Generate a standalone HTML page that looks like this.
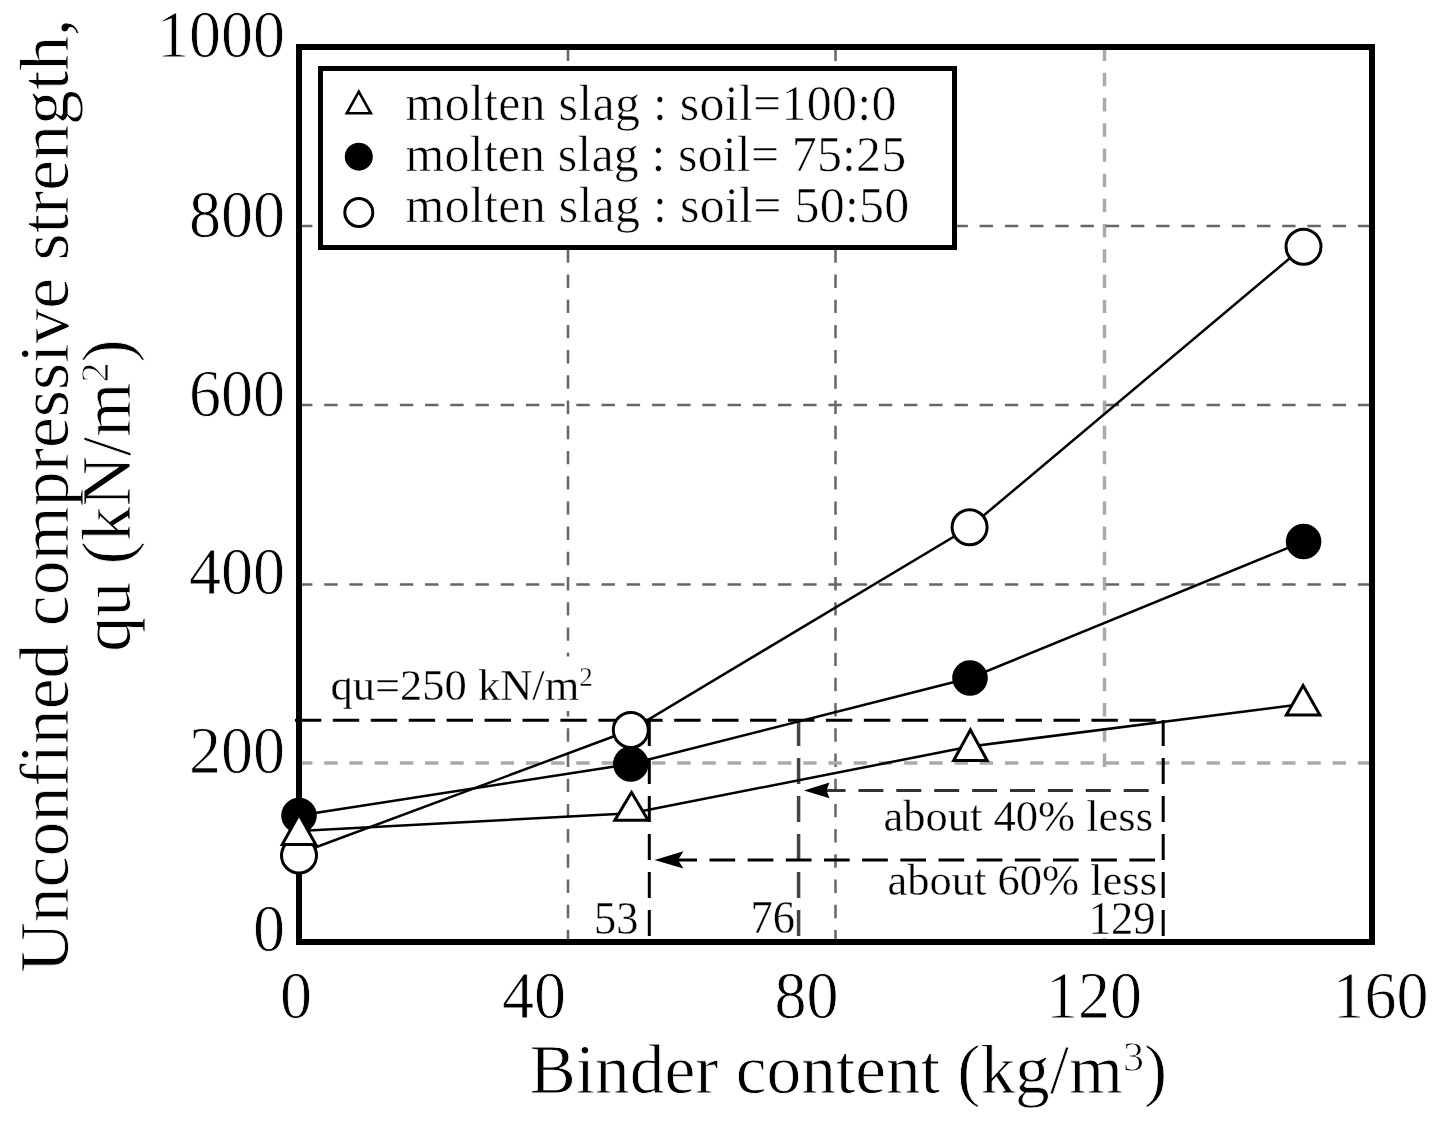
<!DOCTYPE html>
<html><head><meta charset="utf-8">
<style>
html,body{margin:0;padding:0;background:#fff;}
body{width:1439px;height:1127px;overflow:hidden;}
svg{display:block;filter:grayscale(1);}
text{font-family:"Liberation Serif",serif;fill:#000;stroke:#fff;stroke-width:0.8px;}
.t6 text{stroke-width:0.6px;}
.t3 text{stroke-width:0.3px;}
</style></head>
<body>
<svg width="1439" height="1127" viewBox="0 0 1439 1127">
<rect x="0" y="0" width="1439" height="1127" fill="#fff"/>
<!-- grid -->
<g stroke="#666" stroke-width="2.5" stroke-dasharray="13.4 11.81" fill="none">
<line x1="568" y1="47.6" x2="568" y2="939"/>
<line x1="835.5" y1="47.6" x2="835.5" y2="939"/>
<line x1="1104.5" y1="47.6" x2="1104.5" y2="939" stroke="#aaa" stroke-width="3.5"/>
<line x1="299" y1="226" x2="1369" y2="226"/>
<line x1="299" y1="405" x2="1369" y2="405"/>
<line x1="299" y1="584.5" x2="1369" y2="584.5"/>
<line x1="299" y1="763" x2="1369" y2="763" stroke="#aaa" stroke-width="3.5"/>
</g>
<!-- label backgrounds -->
<rect x="328" y="656.5" width="267" height="54.5" fill="#fff"/>
<rect x="878" y="772" width="282" height="166" fill="#fff"/>
<!-- annotation dashed lines -->
<g stroke="#000" stroke-width="3" fill="none">
<line x1="294.9" y1="720.3" x2="1163.5" y2="720.3" stroke-dasharray="26.4 11.53"/>
<line x1="649.3" y1="720" x2="649.3" y2="939" stroke-dasharray="26 12"/>
<line x1="798.6" y1="720" x2="798.6" y2="939" stroke-dasharray="26 12" stroke="#444" stroke-width="3.5"/>
<line x1="1163.2" y1="720" x2="1163.2" y2="939" stroke-dasharray="26 12"/>
<line x1="820.5" y1="790.4" x2="1149" y2="790.4" stroke-dasharray="25 12.9" stroke="#333"/>
<line x1="671.3" y1="859.9" x2="1155.5" y2="859.9" stroke-dasharray="25.7 12.47"/>
</g>
<path d="M804,790.4 L829.5,782.6 L826.5,790.4 L829.5,798.2 Z" fill="#000"/>
<path d="M654.5,859.9 L683.4,851.3 L678.1,859.9 L683.4,868.6 Z" fill="#000"/>
<!-- frame -->
<rect x="299" y="47" width="1073" height="895" fill="none" stroke="#000" stroke-width="6"/>
<!-- series lines -->
<g stroke="#000" stroke-width="2.5" fill="none">
<polyline points="299,831 631,813.3 970,746.5 1303,704"/>
<polyline points="299,815.5 630.8,764 970,678 1303.6,541.5"/>
<polyline points="299,853.5 630.8,730 969.6,527.3 1303.5,246.7"/>
</g>
<!-- markers -->
<g fill="#fff" stroke="#000" stroke-width="3">
<circle cx="299" cy="855.5" r="17.5"/>
<circle cx="630.8" cy="730" r="17.5"/>
<circle cx="969.6" cy="527.3" r="17.5"/>
<circle cx="1303.5" cy="246.7" r="17.5"/>
</g>
<g fill="#000">
<circle cx="299" cy="815.5" r="17.8"/>
<circle cx="630.8" cy="764" r="17.8"/>
<circle cx="970" cy="678" r="17.8"/>
<circle cx="1303.6" cy="541.5" r="17.8"/>
</g>
<g>
<polygon points="299.0,811.5 279.7,845.9 318.3,845.9" fill="#000"/><polygon points="299.0,817.6 284.8,842.9 313.2,842.9" fill="#fff"/>
<polygon points="631.5,789.5 612.2,821.8 650.8,821.8" fill="#000"/><polygon points="631.5,795.3 617.5,818.8 645.5,818.8" fill="#fff"/>
<polygon points="970.4,726.8 951.1,761.9 989.7,761.9" fill="#000"/><polygon points="970.4,733.0 956.2,758.9 984.6,758.9" fill="#fff"/>
<polygon points="1303.1,682.4 1283.8,716.5 1322.4,716.5" fill="#000"/><polygon points="1303.1,688.5 1288.9,713.5 1317.3,713.5" fill="#fff"/>
</g>
<!-- legend -->
<rect x="320.5" y="68.5" width="634" height="179" fill="#fff" stroke="#000" stroke-width="5"/>
<polygon points="358.8,89.0 344.6,114.5 373.0,114.5" fill="#000"/><polygon points="358.8,94.3 349.0,111.9 368.6,111.9" fill="#fff"/>
<circle cx="358.8" cy="156.7" r="14" fill="#000"/>
<circle cx="358.8" cy="212.5" r="14" fill="#fff" stroke="#000" stroke-width="3"/>
<g font-size="50" xml:space="preserve" letter-spacing="0.2" class="t6">
<text x="405.5" y="120" letter-spacing="0.25">molten slag : soil=100:0</text>
<text x="405.5" y="171" letter-spacing="0.13">molten slag : soil= 75:25</text>
<text x="405.5" y="222" letter-spacing="0.26">molten slag : soil= 50:50</text>
</g>
<!-- y tick labels -->
<g font-size="64" text-anchor="end">
<text transform="translate(285,57.3) scale(1,1.05)">1000</text>
<text transform="translate(285,236.5) scale(1,1.05)">800</text>
<text transform="translate(285,415.5) scale(1,1.05)">600</text>
<text transform="translate(285,594) scale(1,1.05)">400</text>
<text transform="translate(285,773) scale(1,1.05)">200</text>
<text transform="translate(285,951) scale(1,1.05)">0</text>
</g>
<!-- x tick labels -->
<g font-size="64" text-anchor="middle">
<text transform="translate(296,1018) scale(1,1.05)">0</text>
<text transform="translate(534,1018) scale(1,1.05)">40</text>
<text transform="translate(806.6,1018) scale(1,1.05)">80</text>
<text transform="translate(1093.9,1018) scale(1,1.05)">120</text>
<text transform="translate(1380.6,1018) scale(1,1.05)">160</text>
</g>
<!-- axis titles -->
<text x="529.5" y="1092.5" font-size="69.4">Binder content (kg/m<tspan font-size="42" dy="-21.5">3</tspan><tspan dy="21.5">)</tspan></text>
<g font-size="69.7" text-anchor="middle">
<text transform="translate(68,495.5) rotate(-90)">Unconfined compressive strength,</text>
<text transform="translate(130,495.5) rotate(-90)">qu (kN/m<tspan font-size="40" dy="-22">2</tspan><tspan dy="22">)</tspan></text>
</g>
<!-- annotations -->
<g font-size="44.5" class="t3">
<text x="330.5" y="700">qu=250 kN/m<tspan font-size="27" dy="-14">2</tspan></text>
<text x="1153" y="830.7" text-anchor="end">about 40% less</text>
<text x="1157" y="895.3" text-anchor="end">about 60% less</text>
<text transform="translate(638.5,933.5) scale(1,1.04)" text-anchor="end">53</text>
<text transform="translate(795,932.6) scale(1,1.04)" text-anchor="end">76</text>
<text transform="translate(1155.5,933.8) scale(1,1.04)" text-anchor="end">129</text>
</g>
</svg>
</body></html>
